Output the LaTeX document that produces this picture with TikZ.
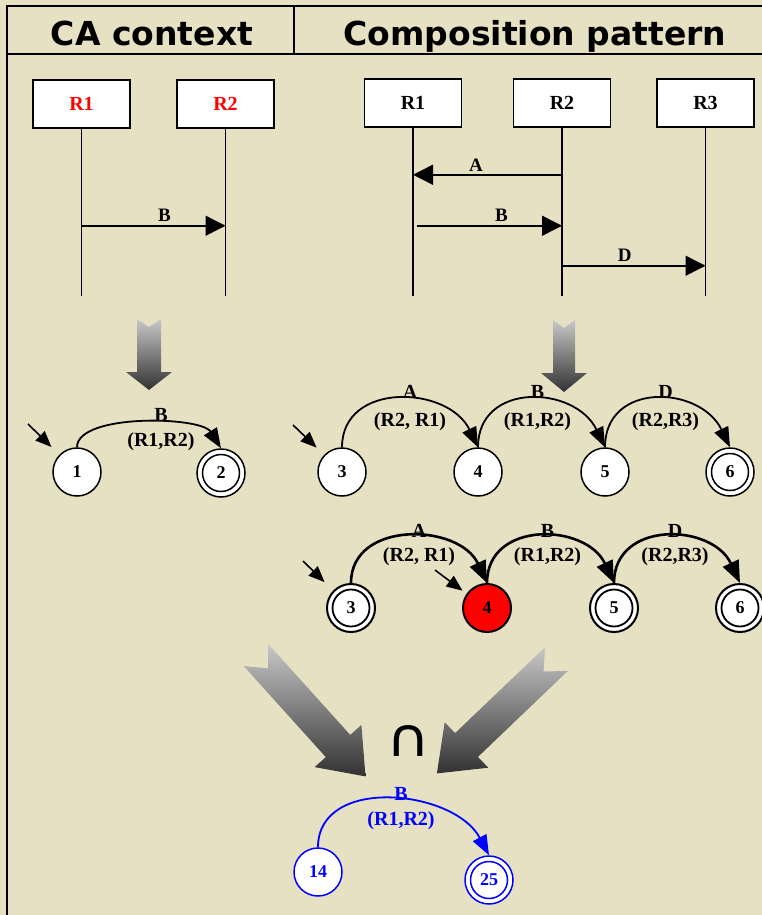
\documentclass[tikz,border=0pt]{standalone}
\usepackage{fontspec}
\setmainfont{Liberation Serif}
\newfontfamily\headfont{DejaVu Sans}
\usetikzlibrary{arrows.meta,calc}
\definecolor{paper}{RGB}{231,225,195}
\definecolor{pureblue}{RGB}{0,0,255}
\definecolor{purered}{RGB}{255,0,0}
\definecolor{arrowlight}{RGB}{200,200,200}
\definecolor{arrowdark}{RGB}{50,50,50}
\begin{document}
\begin{tikzpicture}[x=1pt,y=-1pt,
  frame/.style={line width=1.5pt},
  headtext/.style={font=\headfont\bfseries\fontsize{33}{33}\selectfont, inner sep=0pt, anchor=base},
  lifebox/.style={draw, fill=white, line width=1.5pt, minimum width=97pt, minimum height=48pt,
    inner sep=0pt, font=\bfseries\fontsize{20}{20}\selectfont},
  life/.style={line width=1.5pt},
  msg/.style={line width=1.5pt, -{Triangle[length=20pt,width=20pt]}},
  msglbl/.style={font=\bfseries\fontsize{19}{19}\selectfont, inner sep=0pt},
  state/.style={circle, draw, fill=white, line width=1.5pt, minimum size=48pt, inner sep=0pt,
    font=\bfseries\fontsize{18}{18}\selectfont},
  finalring/.style={path picture={\draw[line width=1.5pt,#1]
    (path picture bounding box.center) circle[radius=18.5pt];}},
  finalring/.default=black,
  trans/.style={line width=1.8pt, -{Triangle[length=20pt,width=15pt]}},
  initarrow/.style={line width=1.6pt, -{Triangle[length=16pt,width=13pt]}},
  elbl/.style={font=\bfseries\fontsize{20}{20}\selectfont, inner sep=0pt},
  bigarrow/.style={top color=arrowlight, bottom color=arrowdark, draw=none},
]
\useasboundingbox (0,0) rectangle (762,915);
\clip (0,0) rectangle (762,915);
\fill[paper] (0,0) rectangle (762,915);

% table frame and column headers
\draw[frame] (7,930) -- (7,6) -- (780,6);
\draw[frame] (7,54) -- (780,54);
\draw[frame] (294,6) -- (294,54);
\node[headtext] (hca) at (152,46) {CA context};
\node[headtext] (hcp) at (535,46) {Composition pattern};

% ---- CA context: sequence chart
\node[lifebox, text=purered] (a1) at (81.5,104) {R1};
\node[lifebox, text=purered] (a2) at (225.5,104) {R2};
\draw[life] (a1.south) -- ++(0,167);
\draw[life] (a2.south) -- ++(0,167);
\draw[msg] ($(a1.south)+(0,97)$) -- ($(a2.south)+(0,97)$)
  node[msglbl, midway, xshift=11pt, yshift=10pt] {B};

% ---- Composition pattern: sequence chart
\node[lifebox] (b1) at (413,103) {R1};
\node[lifebox] (b2) at (562,103) {R2};
\node[lifebox] (b3) at (705.5,103) {R3};
\draw[life] (b1.south) -- ++(0,168);
\draw[life] (b2.south) -- ++(0,168);
\draw[life] (b3.south) -- ++(0,168);
\draw[msg] ($(b2.south)+(0,47)$) -- ($(b1.south)+(0,47)$)
  node[msglbl, midway, xshift=-11.5pt, yshift=9.5pt] {A};
\draw[msg] ($(b1.south)+(4,98)$) -- ($(b2.south)+(0,98)$)
  node[msglbl, midway, xshift=12pt, yshift=10pt] {B};
\draw[msg] ($(b2.south)+(0,138)$) -- ($(b3.south)+(0,138)$)
  node[msglbl, midway, xshift=-9pt, yshift=10.5pt] {D};

% ---- downward translation arrows
\shade[bigarrow] (137,319) -- (149,327) -- (161,319) -- (161,372) -- (172,372)
  -- (149,390) -- (126,372) -- (137,372) -- cycle;
\shade[bigarrow] (553,320) -- (564,328) -- (575,320) -- (575,373) -- (587,373)
  -- (564,392) -- (541,373) -- (553,373) -- cycle;

% ---- automaton of the context
\node[state] (s1) at (77,472) {1};
\node[state, finalring] (s2) at (221,473) {2};
\coordinate (i1) at (28,424);
\draw[initarrow, shorten >=11pt] (i1) -- (s1);
\draw[trans] (s1.north) .. controls +(0,-34) and +(-20,-32) .. (s2.north);
\path (s1.north) -- (s2.north)
  node[elbl, midway, xshift=12pt, yshift=33pt] {B}
  node[elbl, midway, xshift=12pt, yshift=6pt] {(R1,R2)};

% ---- automaton of the pattern
\node[state] (p3) at (342,472) {3};
\node[state] (p4) at (478,472) {4};
\node[state] (p5) at (605,472) {5};
\node[state, finalring] (p6) at (730,472) {6};
\coordinate (i3) at (293,425);
\draw[initarrow, shorten >=10.5pt] (i3) -- (p3);
\draw[trans] (p3.north) .. controls +(0,-66) and +(-30,-62) .. (p4.north);
\draw[trans] (p4.north) .. controls +(0,-66) and +(-30,-62) .. (p5.north);
\draw[trans] (p5.north) .. controls +(0,-66) and +(-30,-62) .. (p6.north);
\path (p3.north) -- (p4.north)
  node[elbl, midway, yshift=55pt] {A}
  node[elbl, midway, yshift=26pt] {(R2, R1)};
\path (p4.north) -- (p5.north)
  node[elbl, midway, xshift=-4pt, yshift=55pt] {B}
  node[elbl, midway, xshift=-4pt, yshift=26pt] {(R1,R2)};
\path (p5.north) -- (p6.north)
  node[elbl, midway, xshift=-2pt, yshift=55pt] {D}
  node[elbl, midway, xshift=-2pt, yshift=26pt] {(R2,R3)};

% ---- completed pattern automaton
\begin{scope}[state/.append style={line width=2pt},
  trans/.style={line width=2.6pt, -{Triangle[length=22pt,width=17pt]}}]
\node[state, finalring={line width=1.8pt}] (q3) at (351,608) {3};
\node[state, fill=purered] (q4) at (487,608) {4};
\node[state, finalring={line width=1.8pt}] (q5) at (614,608) {5};
\node[state, finalring={line width=1.8pt}] (q6) at (740,608) {6};
\coordinate (j3) at (303,561);
\coordinate (j4) at (435,570);
\draw[initarrow, shorten >=12pt] (j3) -- (q3);
\draw[initarrow, shorten >=5pt] (j4) -- (q4.145);
\draw[trans] (q3.north) .. controls +(0,-63) and +(-28,-60) .. (q4.north);
\draw[trans] (q4.north) .. controls +(0,-63) and +(-28,-60) .. (q5.north);
\draw[trans] (q5.north) .. controls +(0,-63) and +(-28,-60) .. (q6.north);
\end{scope}
\path (q3.north) -- (q4.north)
  node[elbl, midway, yshift=52pt] {A}
  node[elbl, midway, yshift=26pt] {(R2, R1)};
\path (q4.north) -- (q5.north)
  node[elbl, midway, xshift=-3pt, yshift=52pt] {B}
  node[elbl, midway, xshift=-3pt, yshift=26pt] {(R1,R2)};
\path (q5.north) -- (q6.north)
  node[elbl, midway, xshift=-2pt, yshift=52pt] {D}
  node[elbl, midway, xshift=-2pt, yshift=26pt] {(R2,R3)};

% ---- merging arrows and intersection sign
\shade[bigarrow] (268.2,643.9) -- (268,668.4) -- (243.8,666.1) -- (325.8,757.1)
  -- (314.6,767.1) -- (365.5,776.4) -- (361.4,724.9) -- (350.2,734.9) -- cycle;
\shade[bigarrow] (545.1,647.1) -- (543.5,671.5) -- (567.9,670.9) -- (477.9,756.9)
  -- (488.3,767.7) -- (436.9,773.4) -- (444.7,722.3) -- (455.1,733.1) -- cycle;
\node[inner sep=0pt] (cap) at (409,740.5) {\resizebox{44pt}{31pt}{\headfont ∩}};

% ---- product automaton
\begin{scope}[pureblue]
\node[state, draw=pureblue, text=pureblue] (r14) at (318,872) {14};
\node[state, draw=pureblue, text=pureblue, finalring=pureblue] (r25) at (489,880) {25};
\draw[trans, pureblue] (r14.north) .. controls +(0,-72) and +(-35,-66) .. (r25.north);
\path (r14.north) -- (r25.north)
  node[elbl, text=pureblue, midway, xshift=-2.5pt, yshift=57pt] {B}
  node[elbl, text=pureblue, midway, xshift=-2.5pt, yshift=31pt] {(R1,R2)};
\end{scope}
\end{tikzpicture}
\end{document}
